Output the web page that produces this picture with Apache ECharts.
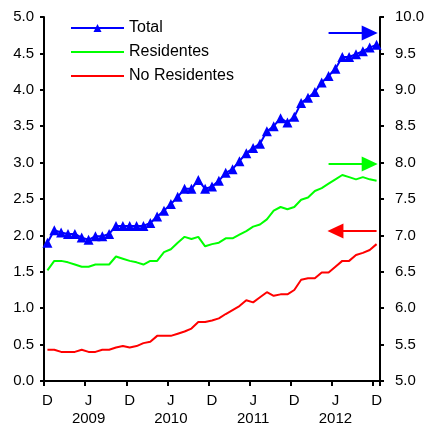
<!DOCTYPE html>
<html>
<head>
<meta charset="utf-8">
<script src="https://cdn.jsdelivr.net/npm/echarts@6/dist/echarts.min.js"></script>
<style>
  html, body { margin: 0; padding: 0; background: #fff; }
  #chart { width: 429px; height: 424px; }
</style>
</head>
<body>
<div id="chart"></div>
<script>
// Monthly observations, Dec 2008 .. Dec 2012
const months = [
  'D08','E09','F09','M09','A09','M09','J09','J09','A09','S09','O09','N09',
  'D09','E10','F10','M10','A10','M10','J10','J10','A10','S10','O10','N10',
  'D10','E11','F11','M11','A11','M11','J11','J11','A11','S11','O11','N11',
  'D11','E12','F12','M12','A12','M12','J12','J12','A12','S12','O12','N12',
  'D12'
];

// Tick labels: month letter and the year shown under mid-year ticks
const tickLetters = { 0: 'D', 6: 'J', 12: 'D', 18: 'J', 24: 'D', 30: 'J', 36: 'D', 42: 'J', 48: 'D' };
const yearLabels = { 6: '2009', 18: '2010', 30: '2011', 42: '2012' };

// Right axis (5–10)
const total = [
  6.90, 7.07, 7.04, 7.02, 7.02, 6.97, 6.94, 6.99, 6.99, 7.02, 7.13, 7.13,
  7.13, 7.13, 7.13, 7.17, 7.26, 7.34, 7.43, 7.53, 7.64, 7.64, 7.76, 7.64,
  7.67, 7.75, 7.86, 7.91, 8.02, 8.13, 8.20, 8.26, 8.43, 8.50, 8.61, 8.55,
  8.63, 8.82, 8.89, 8.97, 9.10, 9.19, 9.29, 9.45, 9.45, 9.49, 9.53, 9.58,
  9.62
];
const residentes = [
  6.52, 6.65, 6.65, 6.63, 6.60, 6.57, 6.57, 6.60, 6.60, 6.60, 6.71, 6.68,
  6.65, 6.63, 6.60, 6.65, 6.65, 6.77, 6.81, 6.90, 6.98, 6.95, 6.98, 6.85,
  6.88, 6.90, 6.96, 6.96, 7.01, 7.06, 7.12, 7.15, 7.22, 7.34, 7.39, 7.36,
  7.39, 7.49, 7.52, 7.61, 7.65, 7.71, 7.77, 7.83, 7.80, 7.77, 7.80, 7.77,
  7.75
];
// Left axis (0–5)
const noResidentes = [
  0.43, 0.43, 0.40, 0.40, 0.40, 0.43, 0.40, 0.40, 0.43, 0.43, 0.46, 0.48,
  0.46, 0.48, 0.52, 0.54, 0.62, 0.62, 0.62, 0.65, 0.68, 0.72, 0.81, 0.81,
  0.83, 0.86, 0.92, 0.975, 1.03, 1.11, 1.08, 1.15, 1.22, 1.17, 1.19, 1.19,
  1.25, 1.39, 1.41, 1.41, 1.49, 1.49, 1.57, 1.65, 1.65, 1.73, 1.76, 1.80,
  1.88
];

// Arrows pointing to the axis each series is read against: [fromIdx, toIdx, value]
const arrowTotal = [41.2, 46.7, 9.78];
const arrowResidentes = [41.2, 46.7, 7.98];
const arrowNoResidentes = [47.5, 42.1, 2.06];

const FONT = 'Arial, Liberation Sans, sans-serif';

function arrow(spec, color) {
  return {
    silent: true,
    animation: false,
    symbol: ['none', 'triangle'],
    symbolSize: [15, 16],
    label: { show: false },
    lineStyle: { color: color, width: 2, type: 'solid' },
    data: [[{ coord: [spec[0], spec[2]] }, { coord: [spec[1], spec[2]] }]]
  };
}

const chart = echarts.init(document.getElementById('chart'), null, { renderer: 'canvas' });

chart.setOption({
  animation: false,
  backgroundColor: '#fff',
  textStyle: { fontFamily: FONT },
  grid: { left: 44, right: 49, top: 17, bottom: 43, containLabel: false, outerBoundsMode: 'none' },
  legend: {
    orient: 'vertical',
    left: 70,
    top: 20,
    padding: 0,
    itemWidth: 53,
    itemHeight: 10,
    itemGap: 8,
    textStyle: { fontFamily: FONT, fontSize: 16, color: '#000' },
    data: [
      { name: 'Total' },
      { name: 'Residentes', itemStyle: { opacity: 0 } },
      { name: 'No Residentes', itemStyle: { opacity: 0 } }
    ]
  },
  xAxis: {
    type: 'category',
    data: months,
    boundaryGap: true,
    axisLine: { lineStyle: { color: '#000', width: 2 } },
    axisTick: { show: true, interval: 5, length: 5, lineStyle: { color: '#000', width: 2 } },
    axisLabel: {
      interval: 0,
      margin: 11,
      fontFamily: FONT,
      fontSize: 15,
      color: '#000',
      lineHeight: 18,
      formatter: function (v, i) {
        if (tickLetters[i] === undefined) return '';
        return tickLetters[i] + '\n' + (yearLabels[i] || ' ');
      }
    },
    splitLine: { show: false }
  },
  yAxis: [
    {
      type: 'value',
      min: 0, max: 5, interval: 0.5,
      position: 'left',
      axisLine: { show: true, lineStyle: { color: '#000', width: 2 } },
      axisTick: { show: true, length: 4, lineStyle: { color: '#000', width: 2 } },
      axisLabel: { margin: 10, fontFamily: FONT, fontSize: 15, color: '#000',
        formatter: v => v.toFixed(1) },
      splitLine: { show: false }
    },
    {
      type: 'value',
      min: 5, max: 10, interval: 0.5,
      position: 'right',
      axisLine: { show: true, lineStyle: { color: '#000', width: 2 } },
      axisTick: { show: true, length: 4, lineStyle: { color: '#000', width: 2 } },
      axisLabel: { margin: 15, fontFamily: FONT, fontSize: 15, color: '#000',
        formatter: v => v.toFixed(1) },
      splitLine: { show: false }
    }
  ],
  series: [
    {
      name: 'Total',
      type: 'line',
      yAxisIndex: 1,
      data: total,
      symbol: 'triangle',
      symbolSize: 10,
      showAllSymbol: true,
      itemStyle: { color: '#0000ff' },
      lineStyle: { color: '#0000ff', width: 2 },
      z: 4,
      markLine: arrow(arrowTotal, '#0000ff')
    },
    {
      name: 'Residentes',
      type: 'line',
      yAxisIndex: 1,
      data: residentes,
      symbol: 'none',
      itemStyle: { color: '#00ff00' },
      lineStyle: { color: '#00ff00', width: 2 },
      z: 3,
      markLine: arrow(arrowResidentes, '#00ff00')
    },
    {
      name: 'No Residentes',
      type: 'line',
      yAxisIndex: 0,
      data: noResidentes,
      symbol: 'none',
      itemStyle: { color: '#ff0000' },
      lineStyle: { color: '#ff0000', width: 2 },
      z: 3,
      markLine: arrow(arrowNoResidentes, '#ff0000')
    }
  ]
});
</script>
</body>
</html>
